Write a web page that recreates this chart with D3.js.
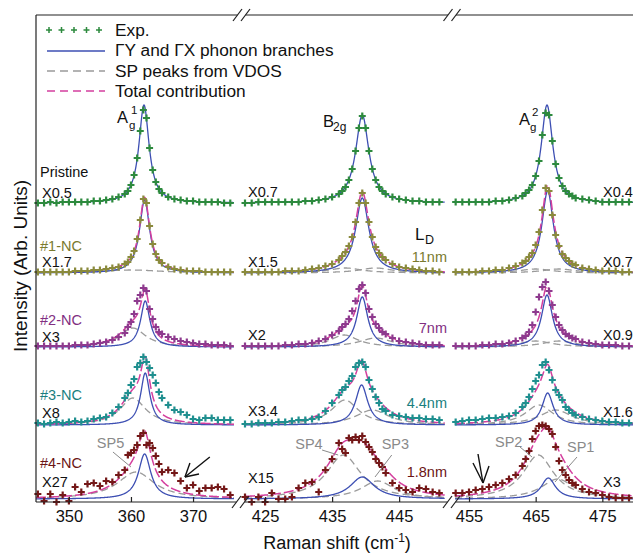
<!DOCTYPE html>
<html>
<head>
<meta charset="utf-8">
<script src="https://cdn.jsdelivr.net/npm/d3@7"></script>
<style>
  body { margin: 0; background: #fff; }
  svg { display: block; font-family: "Liberation Sans", Arial, sans-serif; }
</style>
</head>
<body>
<div id="chart"></div>
<script>
// x ranges of the three broken panels (cm-1)
const rangeP1 = [344.7, 376.6];
const rangeP2 = [422, 451.8];
const rangeP3 = [452.9, 479.6];
const ticksP1 = [350, 360, 370];
const ticksP2 = [425, 435, 445];
const ticksP3 = [455, 465, 475];

const samples = ['Pristine', '#1-NC', '#2-NC', '#3-NC', '#4-NC'];
const sizeLD = ['', '11nm', '7nm', '4.4nm', '1.8nm'];
const factorP1 = ['X0.5', 'X1.7', 'X3', 'X8', 'X27'];
const factorP2 = ['X0.7', 'X1.5', 'X2', 'X3.4', 'X15'];
const factorP3 = ['X0.4', 'X0.7', 'X0.9', 'X1.6', 'X3'];
const offsets = [299, 229, 155, 77, 3];

// measured points
const gridP1 = [345, 346, 347, 348, 349, 350, 351, 352, 353, 354, 355, 356, 357, 358,
  359, 359.5, 360, 360.5, 361, 361.5, 362, 362.5, 363, 363.5, 364, 364.5, 365,
  366, 367, 368, 369, 370, 371, 372, 373, 374, 375, 376];
const gridP2 = [422, 423, 424, 425, 426, 427, 428, 429, 430, 431, 432, 433, 434, 435,
  436, 436.5, 437, 437.5, 438, 438.5, 439, 439.5, 440, 440.5, 441, 441.5, 442, 442.5, 443,
  444, 445, 446, 447, 448, 449, 450, 451];
const gridP3 = [453, 454, 455, 456, 457, 458, 459, 460, 461, 462,
  463, 463.5, 464, 464.5, 465, 465.5, 466, 466.5, 467, 467.5, 468, 468.5, 469, 469.5, 470, 470.5,
  471, 472, 473, 474, 475, 476, 477, 478, 479];

const expP1 = [
  [0, 0, 1, 0, 1, 1, 1, 1, 1, 2, 2, 3, 4, 6, 9, 12, 18, 28, 45, 72, 93, 85, 55, 33, 21, 14, 10, 6, 4, 3, 2, 2, 1, 1, 1, 1, 0, 0],
  [1, 1, 1, 1, 1, 1, 2, 2, 2, 3, 3, 4, 5, 6, 9, 11, 16, 22, 34, 53, 74, 70, 47, 29, 19, 13, 10, 6, 4, 3, 2, 2, 2, 1, 1, 1, 1, 1],
  [1, 1, 1, 1, 1, 1, 2, 2, 2, 3, 4, 5, 7, 10, 14, 20, 25, 33, 46, 52, 59, 56, 38, 28, 20, 15, 13, 10, 8, 6, 5, 4, 3, 3, 2, 2, 2, 1],
  [2, 1, 2, 3, 2, 3, 4, 3, 4, 6, 7, 8, 12, 18, 27, 32, 40, 46, 58, 62, 68, 63, 57, 50, 42, 33, 27, 20, 15, 13, 10, 6, 5, 7, 7, 5, 5, 5],
  [5, -2, 5, -3, 4, -2, 12, 7, 15, 16, 13, 18, 17, 24, 29, 44, 46, 49, 54, 63, 66, 54, 56, 51, 43, 35, 27, 29, 26, 18, 11, 14, 8, 11, 11, 12, 10, 4]
];
const expP2 = [
  [0, 0, 1, 1, 1, 1, 1, 1, 1, 2, 2, 3, 4, 6, 9, 12, 16, 23, 34, 52, 75, 87, 75, 52, 34, 23, 16, 12, 9, 6, 4, 3, 2, 2, 1, 1, 1],
  [1, 1, 1, 1, 1, 1, 2, 2, 2, 3, 4, 5, 7, 9, 13, 17, 21, 27, 36, 51, 70, 80, 70, 51, 36, 26, 20, 16, 13, 9, 6, 5, 4, 3, 2, 2, 1],
  [1, 1, 1, 1, 1, 1, 2, 2, 3, 3, 4, 6, 8, 12, 16, 20, 23, 28, 36, 46, 58, 62, 54, 38, 30, 23, 19, 15, 13, 9, 6, 5, 4, 3, 2, 2, 2],
  [1, 1, 2, 2, 2, 3, 3, 4, 5, 5, 6, 8, 14, 22, 30, 35, 38, 44, 49, 58, 62, 63, 58, 45, 36, 28, 22, 16, 14, 10, 9, 8, 7, 7, 6, 6, 5],
  [2, -3, 2, -3, 6, 0, 0, 2, 11, 16, 17, 7, 29, 40, 56, 50, 46, 61, 59, 62, 59, 63, 57, 52, 47, 40, 36, 32, 26, 16, 11, 9, 7, 11, 10, 7, 6]
];
const expP3 = [
  [1, 1, 1, 1, 1, 1, 2, 2, 3, 5, 7, 10, 13, 18, 27, 42, 68, 90, 88, 62, 39, 25, 17, 12, 9, 7, 5, 4, 3, 2, 1, 1, 1, 1, 1],
  [1, 1, 1, 1, 2, 2, 3, 3, 5, 7, 10, 12, 16, 20, 28, 41, 63, 85, 82, 58, 38, 27, 19, 15, 12, 9, 8, 5, 4, 3, 2, 2, 2, 1, 1],
  [1, 1, 1, 1, 2, 2, 3, 3, 4, 6, 9, 11, 15, 22, 35, 50, 60, 65, 56, 42, 30, 22, 17, 13, 11, 9, 8, 5, 4, 3, 2, 2, 2, 1, 1],
  [3, 4, 5, 5, 6, 7, 7, 8, 9, 12, 18, 22, 28, 36, 44, 50, 60, 63, 55, 45, 35, 30, 25, 18, 15, 12, 10, 8, 6, 5, 4, 3, 3, 2, 2],
  [6, 6, 7, 9, 10, 12, 14, 16, 20, 24, 33, 40, 48, 60, 68, 73, 74, 73, 70, 65, 52, 38, 29, 24, 19, 16, 14, 10, 7, 6, 4, 2, 1, 1, 1]
];

// lorentzian fits: [centre, hwhm, height]
const phonon = [
  [[362.1, 1.0, 98], [439.5, 1.2, 88], [466.7, 1.05, 98]],
  [[362.2, 1.0, 73], [439.5, 1.2, 75], [466.8, 1.05, 82]],
  [[362.3, 0.9, 46], [439.5, 1.0, 50], [466.7, 1.0, 52]],
  [[362.3, 0.9, 52], [439.4, 1.1, 40], [466.8, 1.0, 32]],
  [[362.2, 1.2, 45], [439.5, 2.2, 22], [466.9, 1.3, 21]]
];
const spPeaks = [
  [[], [], []],
  [[[360, 6, 3]], [[437, 3, 5], [441.5, 3, 5]], [[465, 3, 4], [468.5, 3, 4]]],
  [[[360.3, 2.5, 19]], [[436.8, 2.5, 12], [441.5, 3, 9]], [[465, 3, 6], [468.5, 3, 6]]],
  [[[360.3, 2.5, 27]], [[436.9, 2.5, 25], [441, 3, 15]], [[465.5, 2.5, 20], [468, 3, 15]]],
  [[[360.8, 3.6, 27]], [[436.7, 3.1, 44], [441.8, 3, 18]], [[465.4, 2.8, 44], [468.3, 3, 20]]]
];

// annotations in data units: [panel, label, labelV, labelY, v1, y1, v2, y2]
const spNotes = [
  [0, 'SP5', 354.5, 54, 357.1, 50, 360.0, 35],
  [1, 'SP4', 429.5, 53, 433.5, 52, 435.9, 47],
  [1, 'SP3', 442.4, 53, 443.9, 47, 441.4, 25],
  [2, 'SP2', 458.9, 55, 462.65, 55, 464.45, 45],
  [2, 'SP1', 469.7, 50, 471.2, 45, 467.9, 20]
];
// black arrows: [panel, tailV, tailY, tipV, tipY, barb1V, barb1Y, barb2V, barb2Y]
const arrows = [
  [0, 372.7, 45, 368.7, 25, 370.96, 28, 369.5, 39],
  [2, 456.35, 48, 457.1, 19, 455.6, 39, 458.0, 36]
];

const expColors = ['#2d8a3e', '#8a8a3c', '#8e3a8e', '#1f8f8f', '#741818'];
const labelColors = ['#111', '#7a7a2e', '#822f82', '#1a7f7f', '#6b1515'];
const blue = '#3d4fb3', pink = '#d43f9e', gray = '#9b9b9b';

const W = 633, H = 555, axisY = 502, topY = 15, leftX = 36;
const svg = d3.select('#chart').append('svg').attr('width', W).attr('height', H);

const xs = [
  d3.scaleLinear().domain(rangeP1).range([36, 234]),
  d3.scaleLinear().domain(rangeP2).range([245, 444.7]),
  d3.scaleLinear().domain(rangeP3).range([455, 633])
];
const y = d3.scaleLinear().domain([0, 487]).range([axisY, topY]);
const ranges = [rangeP1, rangeP2, rangeP3];
const grids = [gridP1, gridP2, gridP3];
const exps = [expP1, expP2, expP3];
const tickSets = [ticksP1, ticksP2, ticksP3];

function lorentz(v, p) {
  const t = (v - p[0]) / p[1];
  return p[2] / (1 + t * t);
}
const crossPath = 'M-3.5,0H3.5M0,-3.5V3.5';

const gCurves = svg.append('g');
const gPoints = svg.append('g');

for (let r = 0; r < offsets.length; ++r) {
  for (let k = 0; k < 3; ++k) {
    const x = xs[k];
    const off = offsets[r];
    const vs = d3.range(ranges[k][0], ranges[k][1], 0.05);
    const line = d3.line().x(d => x(d[0])).y(d => y(d[1]));
    const sps = spPeaks[r][k];
    sps.forEach(p => {
      gCurves.append('path')
        .attr('d', line(vs.map(v => [v, off + lorentz(v, p)])))
        .attr('fill', 'none')
        .attr('stroke', gray)
        .attr('stroke-width', 1.3)
        .attr('stroke-dasharray', '7,4');
    });
    gCurves.append('path')
      .attr('d', line(vs.map(v => [v, off + lorentz(v, phonon[r][k])])))
      .attr('fill', 'none')
      .attr('stroke', blue)
      .attr('stroke-width', 1.3);
    if (sps.length) {
      const total = vs.map(v => [v, off + lorentz(v, phonon[r][k]) + d3.sum(sps, p => lorentz(v, p))]);
      gCurves.append('path')
        .attr('d', line(total))
        .attr('fill', 'none')
        .attr('stroke', pink)
        .attr('stroke-width', 1.5)
        .attr('stroke-dasharray', '10,3');
    }
    gPoints.selectAll(null)
      .data(grids[k].map((v, i) => [v, off + exps[k][r][i]]))
      .join('path')
      .attr('d', crossPath)
      .attr('transform', d => `translate(${x(d[0])},${y(d[1])})`)
      .attr('stroke', expColors[r])
      .attr('stroke-width', 2.2)
      .attr('fill', 'none');
  }
}

// frame with axis breaks
const frame = svg.append('g').attr('stroke', '#222').attr('stroke-width', 1.2).attr('fill', 'none');
frame.append('line').attr('x1', leftX).attr('x2', leftX).attr('y1', topY).attr('y2', axisY);
[[36, 237.5], [245.5, 448], [456, 633]].forEach(s =>
  frame.append('line').attr('x1', s[0]).attr('x2', s[1]).attr('y1', topY).attr('y2', topY));
[[36, 236.5], [244.5, 447.5], [455.5, 633]].forEach(s =>
  frame.append('line').attr('x1', s[0]).attr('x2', s[1]).attr('y1', axisY).attr('y2', axisY));
function slashes(cx, cy) {
  [-4, 4].forEach(o => frame.append('line')
    .attr('x1', cx + o - 4.5).attr('y1', cy + 6)
    .attr('x2', cx + o + 4.5).attr('y2', cy - 6));
}
slashes(241.5, topY); slashes(452, topY);
slashes(240.5, axisY); slashes(451.5, axisY);

for (let k = 0; k < 3; ++k) {
  const ax = svg.append('g')
    .attr('transform', `translate(0,${axisY})`)
    .call(d3.axisBottom(xs[k]).tickValues(tickSets[k]).tickSize(-5).tickPadding(8).tickFormat(d3.format('d')));
  ax.attr('font-family', null).attr('font-size', null);
  ax.select('.domain').remove();
  ax.selectAll('line').attr('stroke', '#222').attr('stroke-width', 1.2);
  ax.selectAll('text').attr('font-size', 16.5).attr('fill', '#111');
}

// axis titles
svg.append('text')
  .attr('transform', 'translate(27,266) rotate(-90)')
  .attr('text-anchor', 'middle')
  .attr('font-size', 19)
  .attr('fill', '#111')
  .text('Intensity (Arb. Units)');
const xt = svg.append('text')
  .attr('x', 337).attr('y', 549)
  .attr('text-anchor', 'middle')
  .attr('font-size', 18)
  .attr('fill', '#111');
xt.append('tspan').text('Raman shift (cm');
xt.append('tspan').attr('dy', -7).attr('font-size', 12).text('-1');
xt.append('tspan').attr('dy', 7).text(')');

// legend
const lg = svg.append('g');
d3.range(5).forEach(i => lg.append('path')
  .attr('d', 'M-3,0H3M0,-3V3')
  .attr('transform', `translate(${49 + i * 12.5},30)`)
  .attr('stroke', expColors[0]).attr('stroke-width', 1.5));
lg.append('line').attr('x1', 47).attr('x2', 105).attr('y1', 51).attr('y2', 51)
  .attr('stroke', blue).attr('stroke-width', 1.5);
lg.append('line').attr('x1', 47).attr('x2', 105).attr('y1', 71).attr('y2', 71)
  .attr('stroke', gray).attr('stroke-width', 1.3).attr('stroke-dasharray', '8,5');
lg.append('line').attr('x1', 47).attr('x2', 105).attr('y1', 91).attr('y2', 91)
  .attr('stroke', pink).attr('stroke-width', 1.5).attr('stroke-dasharray', '8,5');
['Exp.', 'ΓY and ΓX phonon branches', 'SP peaks from VDOS', 'Total contribution'].forEach((t, i) =>
  lg.append('text').attr('x', 115).attr('y', 36 + i * 20.3)
    .attr('font-size', 17.3).attr('fill', '#111').text(t));

// mode labels
function label(x, yy, t, size, color) {
  return svg.append('text').attr('x', x).attr('y', yy)
    .attr('font-size', size).attr('fill', color || '#111').text(t);
}
label(117, 123, 'A', 16.5); label(129, 129, 'g', 11.5); label(131, 114, '1', 11.5);
label(323, 127, 'B', 16.5); label(333, 131, '2g', 12);
label(519, 125, 'A', 16.5); label(530, 131, 'g', 11.5); label(532, 116, '2', 11.5);
label(415, 240, 'L', 17); label(425, 244, 'D', 12.5);

// sample and scale labels
const rowLabelY = [177, 251, 325, 400, 468];
const factorY1 = [198, 267, 342, 418, 487];
const factorY2 = [197, 267, 340, 416, 483];
const factorY3 = [197, 267, 340, 417, 487];
const ldY = [0, 262, 333, 408, 477];
samples.forEach((s, i) => {
  label(40, rowLabelY[i], s, 14.5, labelColors[i]);
  label(42, factorY1[i], factorP1[i], 14.5);
  label(248, factorY2[i], factorP2[i], 14.5);
  label(603, factorY3[i], factorP3[i], 14.5);
  if (sizeLD[i]) label(447, ldY[i], sizeLD[i], 14.5, labelColors[i]).attr('text-anchor', 'end');
});

// SP annotations
spNotes.forEach(n => {
  const x = xs[n[0]];
  label(x(n[2]), y(n[3]), n[1], 14.5, '#8a8a8a');
  svg.append('line')
    .attr('x1', x(n[4])).attr('y1', y(n[5]))
    .attr('x2', x(n[6])).attr('y2', y(n[7]))
    .attr('stroke', '#8a8a8a').attr('stroke-width', 1);
});
arrows.forEach(a => {
  const x = xs[a[0]];
  [[a[1], a[2]], [a[5], a[6]], [a[7], a[8]]].forEach(p => svg.append('line')
    .attr('x1', x(a[3])).attr('y1', y(a[4]))
    .attr('x2', x(p[0])).attr('y2', y(p[1]))
    .attr('stroke', '#111').attr('stroke-width', 1.4));
});
</script>
</body>
</html>
